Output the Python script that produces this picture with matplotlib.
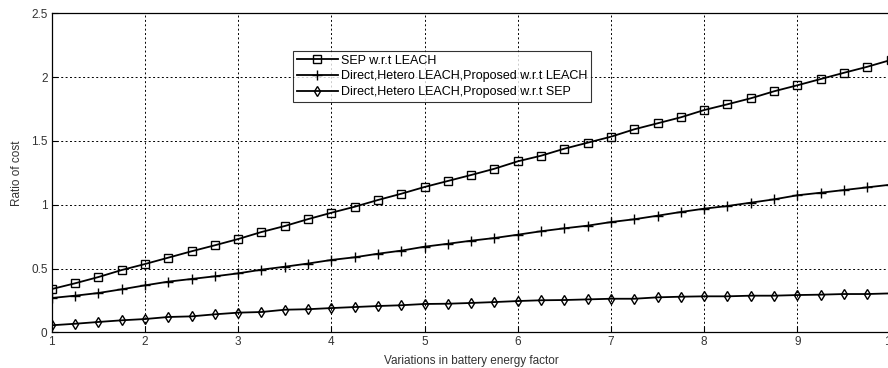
import numpy as np
import matplotlib
matplotlib.use("Agg")
import matplotlib.pyplot as plt

# battery energy factor, steps of 0.25
x = [1, 1.25, 1.5, 1.75, 2, 2.25, 2.5, 2.75, 3, 3.25, 3.5, 3.75,
     4, 4.25, 4.5, 4.75, 5, 5.25, 5.5, 5.75, 6, 6.25, 6.5, 6.75,
     7, 7.25, 7.5, 7.75, 8, 8.25, 8.5, 8.75, 9, 9.25, 9.5, 9.75, 10]

sep_leach = [0.339, 0.384, 0.433, 0.488, 0.535, 0.585, 0.635, 0.682, 0.731, 0.786, 0.833, 0.887,
             0.937, 0.984, 1.037, 1.086, 1.139, 1.186, 1.233, 1.282, 1.340, 1.384, 1.439, 1.486,
             1.533, 1.591, 1.638, 1.685, 1.742, 1.787, 1.834, 1.889, 1.936, 1.985, 2.034, 2.081, 2.134]

prop_leach = [0.269, 0.287, 0.308, 0.337, 0.368, 0.397, 0.418, 0.439, 0.462, 0.491, 0.514, 0.539,
              0.567, 0.588, 0.616, 0.640, 0.671, 0.694, 0.718, 0.739, 0.765, 0.792, 0.815, 0.836,
              0.864, 0.886, 0.914, 0.943, 0.969, 0.990, 1.016, 1.042, 1.074, 1.094, 1.115, 1.136, 1.157]

prop_sep = [0.055, 0.067, 0.081, 0.094, 0.104, 0.120, 0.125, 0.141, 0.154, 0.159, 0.177, 0.181,
            0.190, 0.198, 0.206, 0.212, 0.222, 0.224, 0.230, 0.237, 0.245, 0.251, 0.253, 0.258,
            0.263, 0.263, 0.274, 0.279, 0.282, 0.282, 0.287, 0.287, 0.292, 0.295, 0.300, 0.300, 0.305]

labels = ["SEP w.r.t LEACH",
          "Direct,Hetero LEACH,Proposed w.r.t LEACH",
          "Direct,Hetero LEACH,Proposed w.r.t SEP"]

plt.rcParams['font.family'] = ['Liberation Sans', 'DejaVu Sans']

fig = plt.figure(figsize=(8.88, 3.68), dpi=100)
ax = fig.add_axes([0.0583, 0.097, 0.9446, 0.8668])

ax.plot(x, sep_leach, color='black', lw=1.3, marker='s', ms=5.5, mfc='none', mec='black', mew=1.0, label=labels[0])
ax.plot(x, prop_leach, color='black', lw=1.3, marker='+', ms=7, mew=1.0, label=labels[1])
ax.plot(x, prop_sep, color='black', lw=1.3, marker='d', ms=6, mfc='none', mec='black', mew=1.0, label=labels[2])
# thinner diamonds like the original
for ln in ax.lines[2:]:
    ln.set_marker(matplotlib.markers.MarkerStyle('d'))
    ln.set_markersize(5.5)

ax.set_xlim(1, 10)
ax.set_ylim(0, 2.5)
ax.set_xticks(range(1, 11))
ax.set_yticks([0, 0.5, 1, 1.5, 2, 2.5])
ax.set_yticklabels(['0', '0.5', '1', '1.5', '2', '2.5'])
ax.grid(True, color='black', linestyle=(0, (2, 2.5)), linewidth=0.7)
ax.tick_params(direction='in', length=4, labelsize=8.5, labelcolor='#333333', pad=3)
for s in ax.spines.values():
    s.set_linewidth(0.9)

ax.set_xlabel("Variations in battery energy factor", fontsize=8.5, color='#333333', labelpad=5)
ax.set_ylabel("Ratio of cost", fontsize=8.5, color='#333333', labelpad=6)

leg = ax.legend(loc='upper left', bbox_to_anchor=(293 / 888, 1 - 51 / 368),
                bbox_transform=fig.transFigure, borderaxespad=0, fontsize=9,
                frameon=True, fancybox=False, handlelength=3.3, handletextpad=0.25,
                labelspacing=0.3, borderpad=0.3)
leg.get_frame().set_edgecolor('black')
leg.get_frame().set_linewidth(0.8)

fig.savefig("out.png", dpi=100)
